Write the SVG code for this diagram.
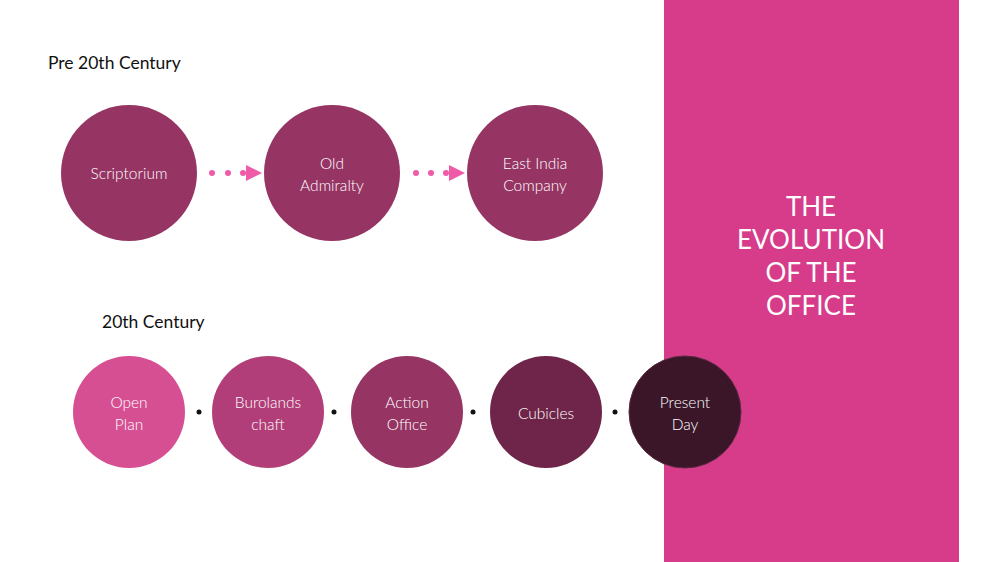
<svg xmlns="http://www.w3.org/2000/svg" width="1000" height="562" viewBox="0 0 1000 562">
<style>
.lbl{font-family:Lato,"Liberation Sans",sans-serif;font-weight:300;font-size:15.5px;fill:#fff;text-anchor:middle}
.hdr{font-family:Lato,"Liberation Sans",sans-serif;font-weight:400;font-size:17.5px;fill:#111}
.title{font-family:Lato,"Liberation Sans",sans-serif;font-weight:400;font-size:26px;fill:#fff;text-anchor:middle}
.pd{fill:#F05BA8}
.bd{fill:#111}
</style>
<rect width="1000" height="562" fill="#fff"/>
<rect id="panel" x="664" y="0" width="295" height="562" fill="#D63C8A"/>
<g id="title-text">
<text class="title" x="811" y="216">THE</text>
<text class="title" x="811" y="249">EVOLUTION</text>
<text class="title" x="811" y="282">OF THE</text>
<text class="title" x="811" y="315">OFFICE</text>
</g>
<text class="hdr" x="48" y="69">Pre 20th Century</text>
<text class="hdr" x="102" y="328">20th Century</text>
<g id="connectors">
<circle class="pd" cx="212" cy="173" r="3"/><circle class="pd" cx="228" cy="173" r="3"/><circle class="pd" cx="243" cy="173" r="3"/>
<polygon class="pd" points="246,165 262,173 246,181"/>
<circle class="pd" cx="416" cy="173" r="3"/><circle class="pd" cx="431" cy="173" r="3"/><circle class="pd" cx="446" cy="173" r="3"/>
<polygon class="pd" points="449,165 465,173 449,181"/>
<circle class="bd" cx="199" cy="412" r="2.5"/>
<circle class="bd" cx="334" cy="412" r="2.5"/>
<circle class="bd" cx="473" cy="412" r="2.5"/>
<circle class="bd" cx="615" cy="412" r="2.5"/>
</g>
<g id="scriptorium"><circle cx="129" cy="173" r="68" fill="#963463"/><text class="lbl" x="129" y="179">Scriptorium</text></g>
<g id="old-admiralty"><circle cx="332" cy="173" r="68" fill="#963463"/><text class="lbl" x="332" y="169">Old</text><text class="lbl" x="332" y="191">Admiralty</text></g>
<g id="east-india"><circle cx="535" cy="173" r="68" fill="#963463"/><text class="lbl" x="535" y="169">East India</text><text class="lbl" x="535" y="191">Company</text></g>
<g id="open-plan"><circle cx="129" cy="412" r="56" fill="#D64F93"/><text class="lbl" x="129" y="408">Open</text><text class="lbl" x="129" y="430">Plan</text></g>
<g id="burolandschaft"><circle cx="268" cy="412" r="56" fill="#B13E78"/><text class="lbl" x="268" y="408">Burolands</text><text class="lbl" x="268" y="430">chaft</text></g>
<g id="action-office"><circle cx="407" cy="412" r="56" fill="#963463"/><text class="lbl" x="407" y="408">Action</text><text class="lbl" x="407" y="430">Office</text></g>
<g id="cubicles"><circle cx="546" cy="412" r="56" fill="#6E2549"/><text class="lbl" x="546" y="419">Cubicles</text></g>
<g id="present-day"><circle cx="685" cy="412" r="56" fill="#3A1628" stroke="#5a2a40" stroke-width="1"/><text class="lbl" x="685" y="408">Present</text><text class="lbl" x="685" y="430">Day</text></g>
</svg>
